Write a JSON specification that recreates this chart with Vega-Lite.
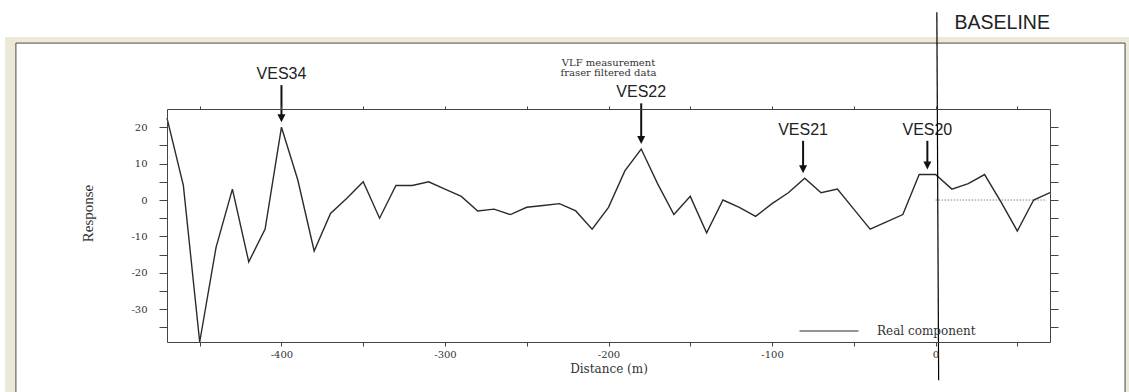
{
  "$schema": "https://vega.github.io/schema/vega-lite/v6.json",
  "width": 883,
  "height": 233,
  "autosize": {"type": "none"},
  "padding": {"left": 167, "top": 109, "right": 79, "bottom": 50},
  "background": "white",
  "config": {
    "view": {"stroke": null},
    "font": "DejaVu Serif"
  },
  "title": {
    "text": ["VLF measurement", "fraser filtered data"],
    "font": "DejaVu Serif",
    "fontSize": 10,
    "fontWeight": "normal",
    "color": "#333333",
    "lineHeight": 10,
    "offset": 0,
    "dy": 66,
    "frame": "group",
    "anchor": "middle",
    "zindex": 1
  },
  "datasets": {
    "profile": [
      {"distance": -470, "response": 22.5},
      {"distance": -460, "response": 4},
      {"distance": -450, "response": -39},
      {"distance": -440, "response": -13},
      {"distance": -430, "response": 3},
      {"distance": -420, "response": -17},
      {"distance": -410, "response": -8},
      {"distance": -400, "response": 20},
      {"distance": -390, "response": 5.5},
      {"distance": -380, "response": -14},
      {"distance": -370, "response": -3.7},
      {"distance": -360, "response": 0.5},
      {"distance": -350, "response": 5},
      {"distance": -340, "response": -5},
      {"distance": -330, "response": 4},
      {"distance": -320, "response": 4},
      {"distance": -310, "response": 5},
      {"distance": -300, "response": 3},
      {"distance": -290, "response": 1},
      {"distance": -280, "response": -3},
      {"distance": -270, "response": -2.5},
      {"distance": -260, "response": -4},
      {"distance": -250, "response": -2},
      {"distance": -240, "response": -1.5},
      {"distance": -230, "response": -1},
      {"distance": -220, "response": -3},
      {"distance": -210, "response": -8},
      {"distance": -200, "response": -2},
      {"distance": -190, "response": 8},
      {"distance": -180, "response": 14},
      {"distance": -170, "response": 4.5},
      {"distance": -160, "response": -4},
      {"distance": -150, "response": 1},
      {"distance": -140, "response": -9},
      {"distance": -130, "response": 0},
      {"distance": -120, "response": -2},
      {"distance": -110, "response": -4.5},
      {"distance": -100, "response": -1},
      {"distance": -90, "response": 2},
      {"distance": -80, "response": 6},
      {"distance": -70, "response": 2},
      {"distance": -60, "response": 3},
      {"distance": -50, "response": -2.5},
      {"distance": -40, "response": -8},
      {"distance": -30, "response": -6},
      {"distance": -20, "response": -4},
      {"distance": -10, "response": 7},
      {"distance": 0, "response": 7},
      {"distance": 10, "response": 3},
      {"distance": 20, "response": 4.5},
      {"distance": 30, "response": 7},
      {"distance": 40, "response": -0.5},
      {"distance": 50, "response": -8.5},
      {"distance": 60, "response": 0},
      {"distance": 70, "response": 2}
    ],
    "soundings": [
      {"label": "VES34", "distance": -400, "response": 20, "labelY": 33.2},
      {"label": "VES22", "distance": -180, "response": 14, "labelY": 28.2},
      {"label": "VES21", "distance": -81, "response": 6, "labelY": 17.9},
      {"label": "VES20", "distance": -5, "response": 7, "labelY": 17.9}
    ]
  },
  "layer": [
    {
      "description": "window frame",
      "data": {"values": [{}]},
      "mark": {"type": "rect", "fill": "#ECE9D8"},
      "encoding": {
        "x": {"datum": -569, "type": "quantitative", "scale": {"domain": [-470, 70], "nice": false, "zero": false}, "axis": null},
        "x2": {"datum": 118.5},
        "y": {"datum": 44.8, "type": "quantitative", "scale": {"domain": [-39, 25], "nice": false, "zero": false}, "axis": null},
        "y2": {"datum": -53}
      }
    },
    {
      "description": "plot panel",
      "data": {"values": [{}]},
      "mark": {"type": "rect", "fill": "white", "stroke": "#4a4a4a", "strokeWidth": 1},
      "encoding": {
        "x": {"datum": -562.4, "type": "quantitative", "scale": {"domain": [-470, 70], "nice": false, "zero": false}, "axis": null},
        "x2": {"datum": 115.9},
        "y": {"datum": 43.1, "type": "quantitative", "scale": {"domain": [-39, 25], "nice": false, "zero": false}, "axis": null},
        "y2": {"datum": -53}
      }
    },
    {
      "description": "zero reference east of the baseline",
      "data": {"values": [{}]},
      "mark": {"type": "rule", "stroke": "#888888", "strokeWidth": 1, "strokeDash": [1.5, 1.5]},
      "encoding": {
        "x": {"datum": 0, "type": "quantitative", "scale": {"domain": [-470, 70], "nice": false, "zero": false},
          "axis": {"orient": "top", "values": [-450, -400, -350, -300, -250, -200, -150, -100, -50, 0, 50], "labels": false, "tickSize": 3, "tickColor": "#444444", "domainColor": "#444444", "title": null, "grid": false, "zindex": 1}},
        "x2": {"datum": 68},
        "y": {"datum": 0, "type": "quantitative", "scale": {"domain": [-39, 25], "nice": false, "zero": false},
          "axis": {"orient": "right", "values": [-35, -30, -25, -20, -15, -10, -5, 0, 5, 10, 15, 20], "labels": false, "tickSize": 8, "tickColor": "#444444", "domainColor": "#444444", "title": null, "grid": false, "zindex": 1}}
      }
    },
    {
      "description": "real component profile",
      "data": {"name": "profile"},
      "mark": {"type": "line", "strokeWidth": 1.4},
      "encoding": {
        "x": {"field": "distance", "type": "quantitative", "scale": {"domain": [-470, 70], "nice": false, "zero": false},
          "axis": {"orient": "bottom", "values": [-450, -400, -350, -300, -250, -200, -150, -100, -50, 0, 50],
            "labelExpr": "datum.value % 100 === 0 ? toString(datum.value) : ''",
            "tickSize": 4, "tickColor": "#444444", "domainColor": "#444444",
            "labelFont": "DejaVu Serif", "labelFontSize": 10, "labelColor": "#333333", "labelPadding": 3,
            "labelFlush": false, "labelOverlap": false,
            "title": "Distance (m)", "titleFont": "DejaVu Serif", "titleFontSize": 12, "titleFontWeight": "normal",
            "titleColor": "#333333", "titlePadding": 4, "grid": false, "zindex": 1}},
        "y": {"field": "response", "type": "quantitative", "scale": {"domain": [-39, 25], "nice": false, "zero": false},
          "axis": {"orient": "left", "values": [-35, -30, -25, -20, -15, -10, -5, 0, 5, 10, 15, 20],
            "labelExpr": "datum.value % 10 === 0 ? toString(datum.value) : ''",
            "tickSize": 8, "tickColor": "#444444", "domainColor": "#444444",
            "labelFont": "DejaVu Serif", "labelFontSize": 10, "labelColor": "#333333", "labelPadding": 12,
            "labelFlush": false, "labelOverlap": false,
            "title": "Response", "titleFont": "Liberation Serif", "titleFontSize": 15, "titleFontWeight": "normal",
            "titleColor": "#333333", "titleX": -72, "titleY": 104, "grid": false, "zindex": 1}},
        "color": {"datum": "Real component", "type": "nominal", "scale": {"range": ["#2b2b2b"]},
          "legend": {"orient": "none", "legendX": 632, "legendY": 192, "title": null, "symbolType": "stroke",
            "symbolSize": 3481, "symbolStrokeWidth": 1, "labelFont": "DejaVu Serif", "labelFontSize": 12,
            "labelColor": "#333333", "labelOffset": 18, "padding": 0, "zindex": 1}}
      }
    },
    {
      "description": "sounding arrows: shafts",
      "data": {"name": "soundings"},
      "mark": {"type": "rule", "stroke": "#111111", "strokeWidth": 2, "yOffset": 6, "y2Offset": -9},
      "encoding": {
        "x": {"field": "distance", "type": "quantitative", "scale": {"domain": [-470, 70], "nice": false, "zero": false}, "axis": null},
        "y": {"field": "labelY", "type": "quantitative", "scale": {"domain": [-39, 25], "nice": false, "zero": false}, "axis": null},
        "y2": {"field": "response"}
      }
    },
    {
      "description": "sounding arrows: heads",
      "data": {"name": "soundings"},
      "mark": {"type": "point", "shape": "M-1,-2L1,-2L0,0Z", "size": 64, "filled": true, "color": "#111111", "opacity": 1, "yOffset": -5},
      "encoding": {
        "x": {"field": "distance", "type": "quantitative", "scale": {"domain": [-470, 70], "nice": false, "zero": false}, "axis": null},
        "y": {"field": "response", "type": "quantitative", "scale": {"domain": [-39, 25], "nice": false, "zero": false}, "axis": null}
      }
    },
    {
      "description": "sounding labels",
      "data": {"name": "soundings"},
      "mark": {"type": "text", "font": "Liberation Sans", "fontSize": 16, "baseline": "alphabetic", "align": "center", "color": "#222222"},
      "encoding": {
        "x": {"field": "distance", "type": "quantitative", "scale": {"domain": [-470, 70], "nice": false, "zero": false}, "axis": null},
        "y": {"field": "labelY", "type": "quantitative", "scale": {"domain": [-39, 25], "nice": false, "zero": false}, "axis": null},
        "text": {"field": "label"}
      }
    },
    {
      "description": "baseline marker",
      "data": {"values": [{}]},
      "mark": {"type": "rule", "stroke": "#000000", "strokeWidth": 1.2},
      "encoding": {
        "x": {"datum": 0.8, "type": "quantitative", "scale": {"domain": [-470, 70], "nice": false, "zero": false}, "axis": null},
        "x2": {"datum": 1.9},
        "y": {"datum": 51.6, "type": "quantitative", "scale": {"domain": [-39, 25], "nice": false, "zero": false}, "axis": null},
        "y2": {"datum": -49.5}
      }
    },
    {
      "description": "baseline caption",
      "data": {"values": [{}]},
      "mark": {"type": "text", "text": "BASELINE", "font": "Liberation Sans", "fontSize": 19.5, "align": "left", "baseline": "middle", "color": "#222222"},
      "encoding": {
        "x": {"datum": 11.6, "type": "quantitative", "scale": {"domain": [-470, 70], "nice": false, "zero": false}, "axis": null},
        "y": {"datum": 48.6, "type": "quantitative", "scale": {"domain": [-39, 25], "nice": false, "zero": false}, "axis": null}
      }
    }
  ],
  "resolve": {"axis": {"x": "independent", "y": "independent"}}
}
